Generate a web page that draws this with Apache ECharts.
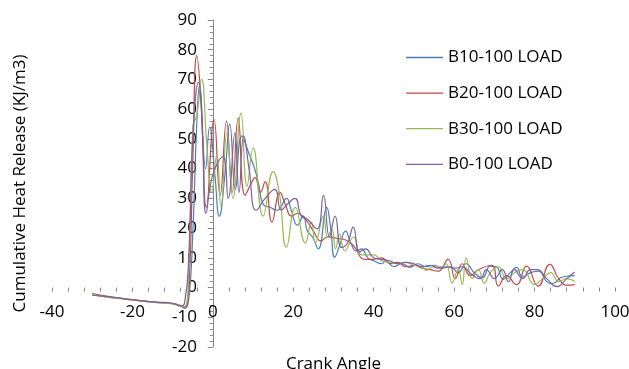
<!DOCTYPE html>
<html><head><meta charset="utf-8">
<script src="https://cdn.jsdelivr.net/npm/echarts@6/dist/echarts.min.js"></script>
<style>html,body{margin:0;padding:0;background:#fff}#c{width:629px;height:369px}</style>
</head><body><div id="c"></div>
<script>
// Crank angle (x) and cumulative heat release (y) per series
const b10X = [-30,-26,-22,-18,-14,-10,-8,-7,-6,-5,-4,-3.3,-1.8,-0.8,0.5,1.6,3,4.2,5.6,7.2,9,10.5,11.5,12.5,14.2,16,18.3,19.5,21,22.5,23.5,24.8,26.2,28.3,29.3,30.3,31.5,33,34.3,35.7,37,38.5,40,42,43,45,47,49,51,53,55,57,59,61,63,65,67,69,70.5,72.2,74,75.5,77,79,81,83,84.5,86.6,88.8,90];
const b10Y = [-2.4,-3.2,-3.8,-4.4,-5.0,-5.4,-6.2,-7.0,-4,18,55,68,40,54,38,24,38,55,33,51,45,39.5,34,28,27,26,30,26,21,24,19,17,13,27,20,10.2,14,19,15,12.3,13,10,9,8,9,7,8,6.8,8,7,7.5,6.5,7,5,8,5,3.3,7.2,7,2.7,5,6.8,3.6,5,5.5,2,1.3,3.4,3.9,4];

const b20X = [-30,-26,-22,-18,-14,-10,-8,-7,-6,-5,-4,-3,-1.6,0.3,1.8,3.4,4.8,6.3,8,9.5,10.5,11.8,13,14.7,16.7,18,19.6,21,23,25,26.9,28.5,31,33,35,37.8,40,42,44,46,48,50,52,54,56,58.5,60.3,62,64,66,69.3,71,73,75.5,78,80.9,83.8,86,88,90];
const b20Y = [-2.0,-3.0,-3.7,-4.4,-5.0,-5.4,-6.0,-6.6,-1,42,78,64,27,56.5,31,56,32,57,31,35,37,32,35.6,22,32,28,24,25,23,19,15.7,17,16.5,16,14,9.5,9.5,10,8,8.5,7,7.5,6.5,6,5.5,9.5,3,8,4,6,7.5,0.5,4,1,7.2,0.5,7.8,3,0.8,1];

const b30X = [-30,-26,-22,-18,-14,-10,-8,-7,-6,-5,-4,-2.8,-1.5,-0.3,1,2,3.5,5,7,8.5,10,12.5,15,16.5,18.3,20.5,23,24.5,25.5,27.5,28.5,29.6,30.5,31.5,32.8,35,37,40,42,44,46,48,50,52,53,55,57,58,59.5,61,62,63,64.5,66,67.5,69,71,73,75,77,80,82,84,86,88,90];
const b30Y = [-2.3,-3.3,-3.9,-4.5,-5.1,-5.5,-6.2,-6.3,5,54,58,70,48,32,45,27,52,30,58.7,34,47,24,39,32,13.6,27,15,22,15,24,17,19.6,13,18,12.3,17,11,11,9,8.5,8,8.5,7.5,7,5.8,7,7,8,1.6,6,1,10,3,6,1.5,5,7,3,5,6,1,3,5,2,3,2];

const b0X = [-30,-26,-22,-18,-14,-10,-8,-7,-6,-5,-3.6,-2.5,-1.7,0,2.5,3.8,5.5,6.5,7.7,9,10.8,13,15.4,17,18.5,20.4,22,23.5,25.9,27.5,29,30.4,32,33.5,34.9,36.5,38,40,42,44,46,48,50,52,54,56,58,60.2,62,64.4,66.5,68,70,72,73.5,75,77,79,80.6,83,85.6,88,90];
const b0Y = [-2.6,-3.1,-3.8,-4.5,-4.9,-5.3,-6.3,-5,10,50,69,50,25,38,44,30,52,32,51,40,26,30,33,26,28,30,24,23,19.7,31,17,24,13.5,15,20.3,12,13,10,9.5,9,8,8.5,8,7,7.5,6.5,7,6.5,7,4.3,3,6,3,6,2,6,3,6,6,3,0.3,3,5.2];

const seriesNames = ['B10-100 LOAD','B20-100 LOAD','B30-100 LOAD','B0-100 LOAD'];
const seriesColors = ['#4A7EBB','#BE4B48','#98B954','#7D60A0'];
const xData = [b10X,b20X,b30X,b0X];
const yData = [b10Y,b20Y,b30Y,b0Y];

const FONT = 'Open Sans';
const FS = 17;
const GRID = {left: 52, right: 14, top: 20, bottom: 22};
const W = 629, H = 369;
const plotW = W - GRID.left - GRID.right, plotH = H - GRID.top - GRID.bottom;
const xMin = -40, xMax = 100, yMin = -20, yMax = 90;
// place the axes where the other axis is zero
const yAxisOffset = -plotW * (0 - xMin) / (xMax - xMin);
const xAxisOffset = -plotH * (0 - yMin) / (yMax - yMin);

const chart = echarts.init(document.getElementById('c'));
chart.setOption({
  animation: false,
  backgroundColor: '#fff',
  textStyle: {fontFamily: FONT},
  grid: Object.assign({containLabel: false, outerBoundsMode: 'none'}, GRID),
  legend: {
    orient: 'vertical', left: 401, top: 44,
    icon: 'rect', itemWidth: 37, itemHeight: 1.3, itemGap: 18.6,
    textStyle: {fontFamily: FONT, fontSize: FS, color: '#000', lineHeight: 14},
    data: seriesNames
  },
  xAxis: {
    type: 'value', min: xMin, max: xMax, interval: 20, position: 'bottom', offset: xAxisOffset,
    name: 'Crank Angle', nameLocation: 'middle', nameGap: 68,
    nameTextStyle: {fontFamily: FONT, fontSize: FS, color: '#000'},
    axisLine: {show: true, onZero: false, lineStyle: {color: 'rgba(0,0,0,0)'}},
    axisTick: {show: true, length: 4, lineStyle: {color: '#868686'}},
    minorTick: {show: true, splitNumber: 5, length: 4, lineStyle: {color: '#868686'}},
    axisLabel: {fontFamily: FONT, fontSize: FS, color: '#000', margin: 16},
    splitLine: {show: false}
  },
  yAxis: {
    type: 'value', min: yMin, max: yMax, interval: 10, position: 'left', offset: yAxisOffset,
    name: 'Cumulative Heat Release (KJ/m3)', nameLocation: 'middle', nameGap: 184, nameRotate: 90,
    nameTextStyle: {fontFamily: FONT, fontSize: FS, color: '#000'},
    axisLine: {show: true, onZero: false, lineStyle: {color: '#868686', width: 1}},
    axisTick: {show: true, length: 5, lineStyle: {color: '#868686'}},
    minorTick: {show: true, splitNumber: 5, length: 3, lineStyle: {color: '#868686'}},
    axisLabel: {fontFamily: FONT, fontSize: FS, color: '#000', margin: 16},
    splitLine: {show: false}
  },
  series: seriesNames.map((n, i) => ({
    name: n, type: 'line', smooth: 0.5, symbol: 'none',
    lineStyle: {color: seriesColors[i], width: 1.2},
    itemStyle: {color: seriesColors[i]},
    data: xData[i].map((x, j) => [x, yData[i][j]])
  }))
});
</script></body></html>
